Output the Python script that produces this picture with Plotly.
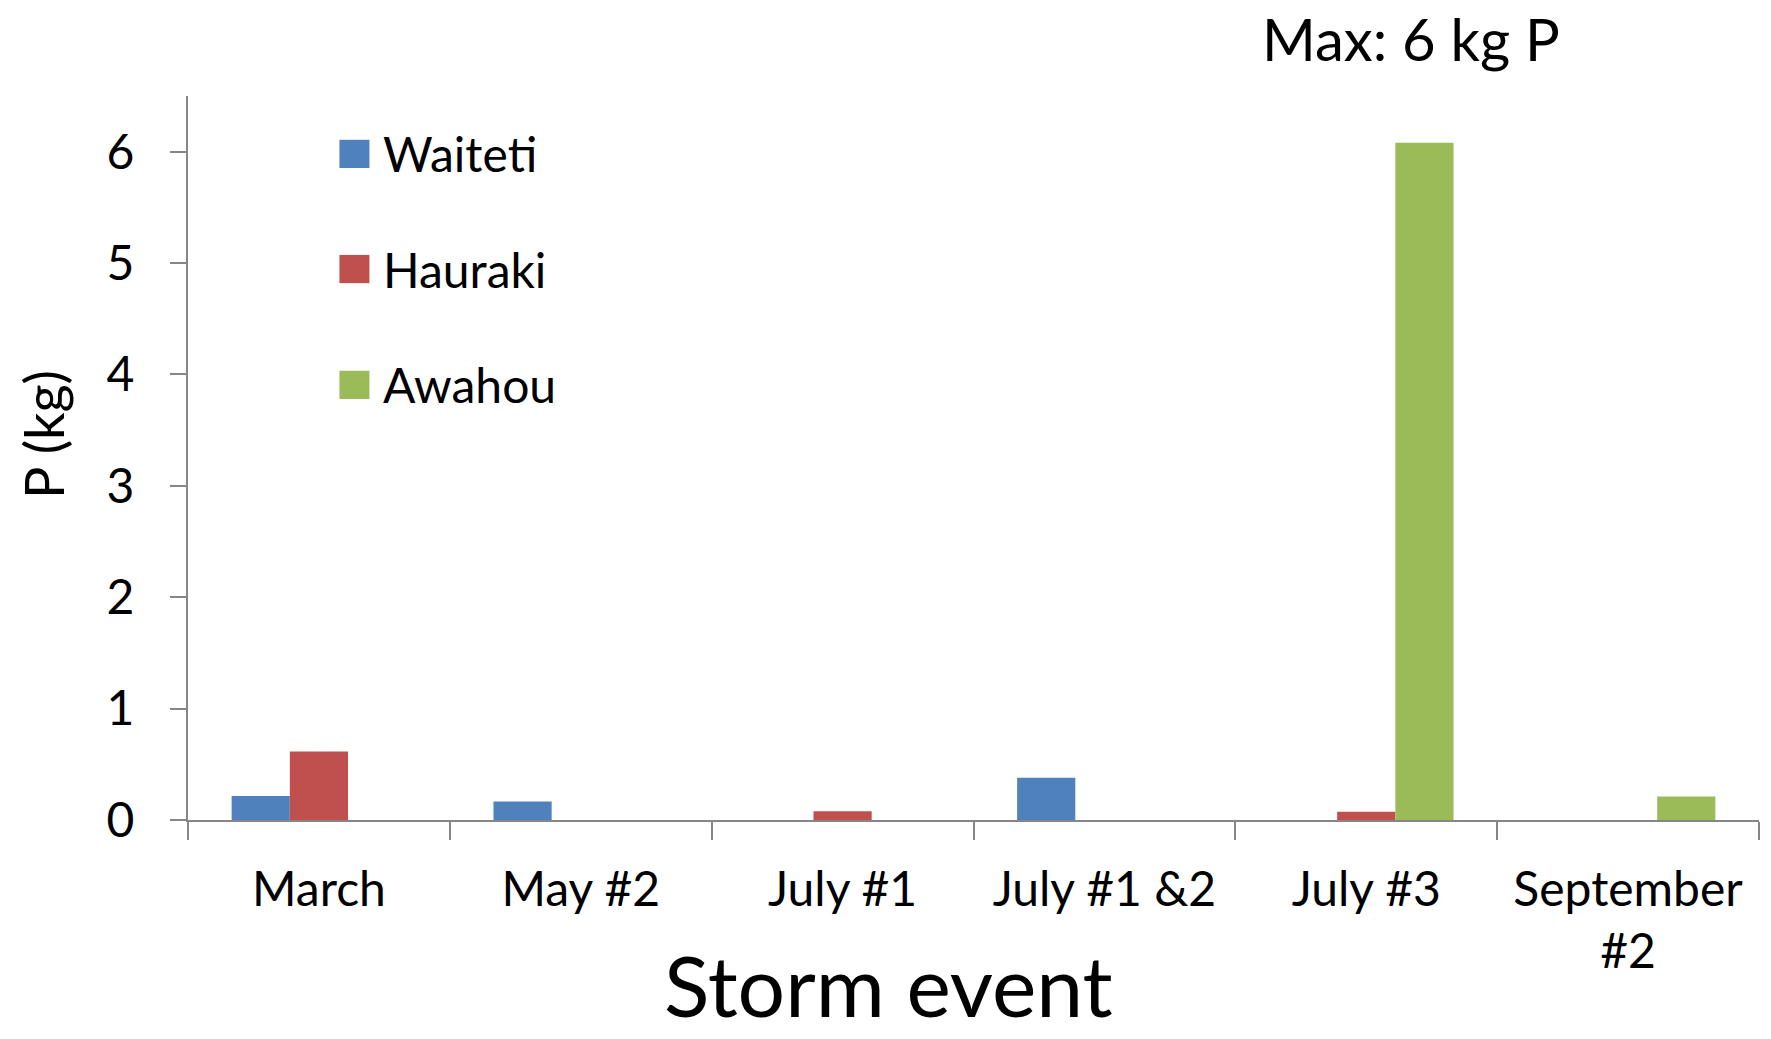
import plotly.graph_objects as go

categories = ["March", "May #2", "July #1", "July #1 &2", "July #3", "September<br>#2"]
series_names = ["Waiteti", "Hauraki", "Awahou"]
waiteti = [0.215, 0.165, 0, 0.38, 0, 0]
hauraki = [0.615, 0, 0.078, 0, 0.075, 0]
awahou = [0, 0, 0, 0, 6.08, 0.21]
y_ticks = [0, 1, 2, 3, 4, 5, 6]
colors = ["#4F81BD", "#C0504D", "#9BBB59"]

FONT = "Lato"
AX = "#868686"

fig = go.Figure()
for name, vals, col in zip(series_names, [waiteti, hauraki, awahou], colors):
    fig.add_trace(go.Bar(x=categories, y=vals, name=name, marker=dict(color=col, line=dict(width=0)),
                         showlegend=False))

# manual legend (large square swatches)
legend_y = [0.920, 0.761, 0.601]
shapes = []
annotations = []
for name, col, yc in zip(series_names, colors, legend_y):
    shapes.append(dict(type="rect", xref="paper", yref="paper", x0=0.0964, x1=0.1155,
                       y0=yc - 0.0195, y1=yc + 0.0195, fillcolor=col, line=dict(width=0)))
    annotations.append(dict(text=name, xref="paper", yref="paper", x=0.123, y=yc, xanchor="left",
                            yanchor="middle", showarrow=False, font=dict(family=FONT, size=48, color="black")))

annotations.append(dict(text="Storm event", xref="paper", yref="paper", x=0.4458, y=-0.2275,
                        xanchor="center", yanchor="middle", showarrow=False,
                        font=dict(family=FONT, size=84, color="black")))
annotations.append(dict(text="P (kg)", xref="paper", yref="paper", x=-0.0915, y=0.532, textangle=-90,
                        xanchor="center", yanchor="middle", showarrow=False,
                        font=dict(family=FONT, size=54, color="black")))
annotations.append(dict(text="Max: 6 kg P", xref="paper", yref="paper", x=0.7785, y=1.08,
                        xanchor="center", yanchor="middle", showarrow=False,
                        font=dict(family=FONT, size=58, color="black")))

fig.update_layout(
    width=1771, height=1039,
    margin=dict(l=188, r=12, t=96, b=219),
    paper_bgcolor="white", plot_bgcolor="white",
    barmode="group", bargap=1.5 / 4.5, bargroupgap=0,
    shapes=shapes, annotations=annotations,
    font=dict(family=FONT, color="black"),
)
fig.update_xaxes(type="category", showline=True, linecolor=AX, linewidth=2,
                 ticks="outside", tickson="boundaries", ticklen=18, tickcolor=AX, tickwidth=2,
                 tickfont=dict(family=FONT, size=48, color="black"), ticklabelstandoff=26,
                 showgrid=False, zeroline=False)
fig.update_yaxes(range=[0, 6.5], tickvals=y_ticks, showline=True, linecolor=AX, linewidth=2,
                 ticks="outside", ticklen=16, tickcolor=AX, tickwidth=2,
                 tickfont=dict(family=FONT, size=48, color="black"), ticklabelstandoff=26,
                 showgrid=False, zeroline=False)

fig.write_html("out.html")
